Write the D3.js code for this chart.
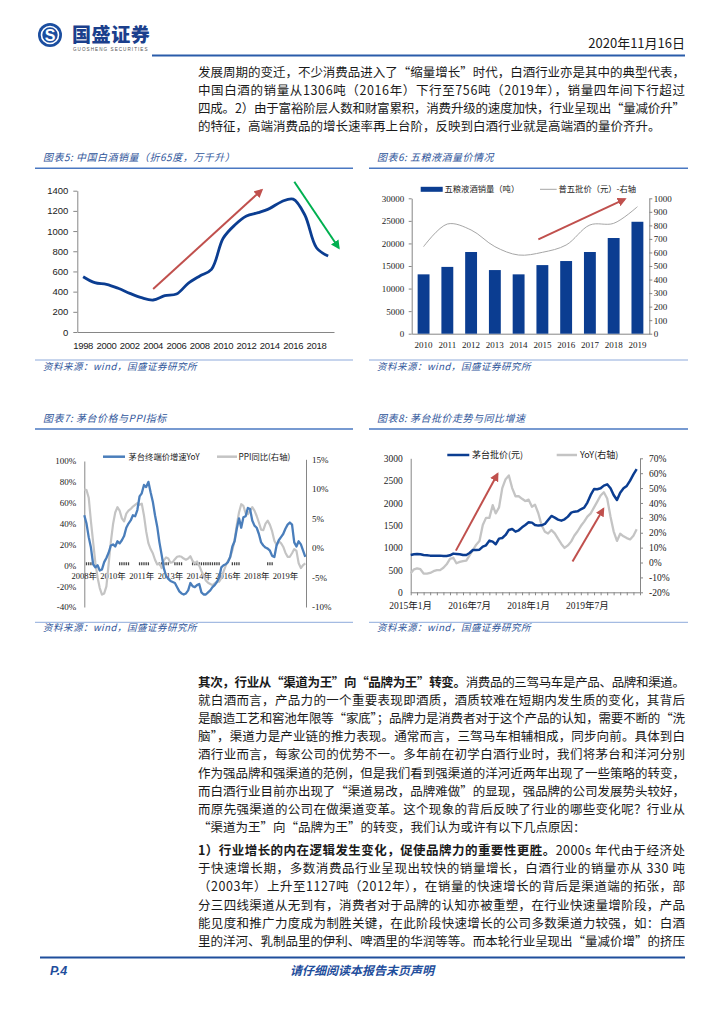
<!DOCTYPE html>
<html>
<head>
<meta charset="utf-8">
<script src="https://cdn.jsdelivr.net/npm/d3@7"></script>
<style>
  body { margin: 0; background: #fff; }
  svg { display: block; }
</style>
</head>
<body>
<svg id="page" width="724" height="1024"></svg>
<script>
// ---------- data ----------

// chart 5: 中国白酒销量
const baijiuYears = ["1998","1999","2000","2001","2002","2003","2004","2005","2006","2007","2008",
  "2009","2010","2011","2012","2013","2014","2015","2016","2017","2018","2019"];
const baijiuVolume = [548, 489, 472, 433, 383, 340, 317, 360, 376, 482, 555,
  621, 928, 1060, 1149, 1182, 1225, 1291, 1317, 1159, 835, 753];
const baijiuXLabels = ["1998","2000","2002","2004","2006","2008","2010","2012","2014","2016","2018"];
const baijiuYTicks = [0, 200, 400, 600, 800, 1000, 1200, 1400];
const baijiuArrows = [[[2004, 426], [2013.3, 1407]], [[2016.1, 1489], [2019.9, 835]]];

// chart 6: 五粮液酒量价
const wlyYears = ["2010","2011","2012","2013","2014","2015","2016","2017","2018","2019"];
const wlyVolume = [13150, 14800, 18100, 14100, 13150, 15200, 16100, 18100, 21200, 24800];
const puwuPrice = [643, 810, 766, 643, 581, 601, 655, 803, 815, 938];
const wlyLeftTicks = [0, 5000, 10000, 15000, 20000, 25000, 30000];
const wlyRightTicks = [0, 100, 200, 300, 400, 500, 600, 700, 800, 900, 1000];
const wlyArrow = [[4.83, 20900], [8.47, 29800]];

// chart 7: 茅台价格与PPI (observation index on x)
const mtRetailYoY = [48,40,27,17,1,-2,0,-5,-4,3, 7,12,19,20,18,23,21,24,28,36,
  40,43,48,47,53,66,69,77,75,80, 70,61,48,37,22,10,-3,-10,-13,-15,
  -16,-17,-21,-25,-27,-28,-27,-24,-17,-20, -21,-19,-18,-26,-28,-28,-26,-24,-21,-19,
  -16,-12,-2,0,1,3,8,18,23,35, 45,36,46,47,55,54,43,38,36,30,
  22,19,17,16,14,9,8,19,24,27, 30,35,39,41,39,22,18,23,20,14, 8];
const ppiYoY = [9.9,9.8,8.5,4.5,1.0,-2.5,-5.0,-6.8,-7.9,-7.7, -6.5,-2.8,1.0,4.0,6.0,6.9,6.3,5.0,4.5,5.8,
  6.3,6.6,7.0,7.3,7.6,7.3,7.5,5.5,2.8,0.8, -0.2,-0.9,-2.0,-2.8,-2.6,-3.4,-2.1,-1.6,-1.8,-2.5,
  -2.4,-1.9,-1.5,-1.4,-1.5,-1.8,-2.0,-1.8,-1.4,-2.2, -2.6,-2.3,-3.0,-3.9,-4.7,-5.5,-5.9,-6.1,-6.3,-6.0,
  -5.7,-5.7,-5.1,-4.0,-3.0,-2.2,-1.6,-0.4,1.3,3.9, 6.0,7.4,7.1,5.9,5.7,6.3,6.9,6.3,5.4,4.3,
  3.1,3.0,4.1,4.6,3.9,2.8,1.2,0.5,1.1,0.8, 0.2,-0.8,-1.5,-1.5,-0.9,-0.2,-0.5,-2.6,-3.4,-2.9, -2.6];
const mtLabels = ["2008年","2010年","2011年","2013年","2014年","2016年","2018年","2019年"];
const mtLabelPos = [0, 13, 26, 39, 52, 65, 78, 91];
const mtLeftTicks = [-40, -20, 0, 20, 40, 60, 80, 100];
const ppiRightTicks = [-10, -5, 0, 5, 10, 15];
const mtTickGroups = [[1, 3], [16, 20], [25, 29], [34, 38], [41, 44], [49, 61], [67, 70], [83, 85]];

// chart 8: 茅台批价 (monthly from 2015-01)
const wsStart = new Date(2015, 0, 1);
const mtWholesale = [836,851,858,851,836,828,821,821,821,821, 813,813,828,866,858,851,836,836,880,948,
  948,955,1022,1052,1157,1134,1075,1202,1216,1284, 1396,1418,1358,1388,1455,1507,1567,1560,1507,1493,
  1500,1530,1619,1709,1672,1627,1604,1634,1694,1784, 1806,1813,1858,1896,2008,2179,2313,2306,2328,2388,
  2418,2328,2179,2067,2231,2328,2381,2500,2640,2760];
const mtWholesaleYoY = [-7.2,-4.6,-3.9,-4.5,-7.4,-7.5,-7.0,-5.8,-5.1,-5.1, -3.5,-1.2,2.5,3.2,-0.5,0.4,1.0,1.3,4.8,8.4,
  12,14.5,25.2,30,30,38.5,33,37,50,56, 58.5,50,44.5,44.5,42.8,41.3,42.2,37.5,38.9,33.1,
  25.2,20.7,19.5,21.8,19.6,16.0,12.5,9.8,11.5,14.2, 18,21,24.5,27.5,30.8,33,37,40.9,45,47.2,
  43,30.8,21,14.5,19.3,17.6,16.4,15.5,18,22.3];
const wsLabels = ["2015年1月","2016年7月","2018年1月","2019年7月"];
const wsLabelPos = [0, 18, 36, 54];
const wsLeftTicks = [0, 500, 1000, 1500, 2000, 2500, 3000];
const wsRightTicks = [-20, -10, 0, 10, 20, 30, 40, 50, 60, 70];
const wsArrows = [[[13.8, 933], [26.5, 2649]], [[49.4, 687], [58.8, 1866]]];

// body text
const para1 = [
  "发展周期的变迁，不少消费品进入了“缩量增长”时代，白酒行业亦是其中的典型代表，",
  "中国白酒的销量从1306吨（2016年）下行至756吨（2019年），销量四年间下行超过",
  "四成。2）由于富裕阶层人数和财富累积，消费升级的速度加快，行业呈现出“量减价升”",
  "的特征，高端消费品的增长速率再上台阶，反映到白酒行业就是高端酒的量价齐升。"
];
const para2 = [
  "**其次，行业从“渠道为王”向“品牌为王”转变。**消费品的三驾马车是产品、品牌和渠道。",
  "就白酒而言，产品力的一个重要表现即酒质，酒质较难在短期内发生质的变化，其背后",
  "是酿造工艺和窖池年限等“家底”；品牌力是消费者对于这个产品的认知，需要不断的“洗",
  "脑”，渠道力是产业链的推力表现。通常而言，三驾马车相辅相成，同步向前。具体到白",
  "酒行业而言，每家公司的优势不一。多年前在初学白酒行业时，我们将茅台和洋河分别",
  "作为强品牌和强渠道的范例，但是我们看到强渠道的洋河近两年出现了一些策略的转变，",
  "而白酒行业目前亦出现了“渠道易改，品牌难做”的显现，强品牌的公司发展势头较好，",
  "而原先强渠道的公司在做渠道变革。这个现象的背后反映了行业的哪些变化呢？行业从",
  "“渠道为王”向“品牌为王”的转变，我们认为或许有以下几点原因："
];
const para3 = [
  "**1）行业增长的内在逻辑发生变化，促使品牌力的重要性更胜。**2000s 年代由于经济处",
  "于快速增长期，多数消费品行业呈现出较快的销量增长，白酒行业的销量亦从 330 吨",
  "（2003年）上升至1127吨（2012年），在销量的快速增长的背后是渠道端的拓张，部",
  "分三四线渠道从无到有，消费者对于品牌的认知亦被重塑，在行业快速量增阶段，产品",
  "能见度和推广力度成为制胜关键，在此阶段快速增长的公司多数渠道力较强，如：白酒",
  "里的洋河、乳制品里的伊利、啤酒里的华润等等。而本轮行业呈现出“量减价增”的挤压"
];

// ---------- setup ----------
const CJK = '"Noto Sans CJK SC", "Noto Sans", sans-serif';
const SERIF = '"Liberation Serif", "Noto Sans CJK SC", serif';
const SANS = '"Liberation Sans", "Noto Sans CJK SC", sans-serif';
const BLUE_DARK = "#0b3d91";
const BLUE_MID = "#4a7ebb";
const GREY_LINE = "#c4c4c4";
const RED = "#c0504d";
const GREEN = "#00b050";
const AXIS = "#868686";
const TITLE_BLUE = "#2f559a";

const TEXT_LEFT = 198, TEXT_RIGHT = 685, LINE_H = 18.2;
const plain = d3.format("d");

const page = d3.select("#page");

const defs = page.append("defs");
[["arrowRed", RED], ["arrowGreen", GREEN]].forEach(([id, c]) => {
  defs.append("marker")
    .attr("id", id)
    .attr("markerUnits", "userSpaceOnUse")
    .attr("markerWidth", 10).attr("markerHeight", 9)
    .attr("refX", 7).attr("refY", 4.5)
    .attr("orient", "auto")
    .append("path")
    .attr("d", "M0,0 L9,4.5 L0,9 Z")
    .attr("fill", c);
});

function styleAxis(sel, font, size) {
  sel.select(".domain").attr("stroke", AXIS).attr("stroke-width", 1);
  sel.selectAll(".tick line").attr("stroke", AXIS);
  sel.selectAll(".tick text")
    .attr("font-family", font)
    .attr("font-size", size)
    .attr("fill", "#1a1a1a");
}

function frame(title, x0, x1, titleY, lineY, srcLineY, srcY) {
  const g = page.append("g");
  g.append("text")
    .attr("x", x0 + 8).attr("y", titleY + 3.5)
    .attr("font-family", CJK).attr("font-size", 10).attr("font-style", "italic")
    .attr("letter-spacing", 0.5)
    .attr("fill", TITLE_BLUE)
    .text(title);
  g.append("line")
    .attr("x1", x0).attr("x2", x1).attr("y1", lineY).attr("y2", lineY)
    .attr("stroke", "#4a78c2").attr("stroke-width", 1.4);
  g.append("line")
    .attr("x1", x0).attr("x2", x1).attr("y1", srcLineY).attr("y2", srcLineY)
    .attr("stroke", "#8eaadb").attr("stroke-width", 1);
  g.append("text")
    .attr("x", x0 + 8).attr("y", srcY + 3.5)
    .attr("font-family", CJK).attr("font-size", 9.5).attr("font-style", "italic")
    .attr("letter-spacing", 0.5)
    .attr("fill", TITLE_BLUE)
    .text("资料来源：wind，国盛证券研究所");
  return g;
}

function arrow(g, x1, y1, x2, y2, color, id) {
  g.append("line")
    .attr("x1", x1).attr("y1", y1).attr("x2", x2).attr("y2", y2)
    .attr("stroke", color).attr("stroke-width", 2)
    .attr("marker-end", `url(#${id})`);
}

// ---------- header ----------
const header = page.append("g");
header.append("circle").attr("cx", 50).attr("cy", 35).attr("r", 12).attr("fill", "#1b4ea0");
header.append("circle").attr("cx", 50).attr("cy", 35).attr("r", 8.5).attr("fill", "none")
  .attr("stroke", "#fff").attr("stroke-width", 1.6);
header.append("text")
  .attr("x", 50).attr("y", 41).attr("text-anchor", "middle")
  .attr("font-family", SANS).attr("font-weight", 700).attr("font-size", 16)
  .attr("fill", "#fff").text("S");
header.append("text")
  .attr("x", 72).attr("y", 42)
  .attr("font-family", CJK).attr("font-weight", 900).attr("font-size", 19)
  .attr("letter-spacing", 0.6)
  .attr("fill", "#1b3f8c").text("国盛证券");
header.append("text")
  .attr("x", 73).attr("y", 51)
  .attr("font-family", SANS).attr("font-size", 4.6).attr("letter-spacing", 1.05)
  .attr("fill", "#555").text("GUOSHENG SECURITIES");
header.append("text")
  .attr("x", 685).attr("y", 48).attr("text-anchor", "end")
  .attr("font-family", CJK).attr("font-size", 13)
  .attr("fill", "#1a1a1a").text("2020年11月16日");
header.append("line")
  .attr("x1", 152).attr("x2", 685).attr("y1", 55.5).attr("y2", 55.5)
  .attr("stroke", "#2a5caa").attr("stroke-width", 2);

// ---------- body text ----------
function paragraph(lines, y0, justifyLast) {
  lines.forEach((line, i) => {
    const t = page.append("text")
      .attr("x", TEXT_LEFT).attr("y", y0 + i * LINE_H)
      .attr("font-family", CJK).attr("font-size", 12.5)
      .attr("fill", "#1a1a1a");
    line.split("**").forEach((part, j) => {
      if (part) t.append("tspan").attr("font-weight", j % 2 ? 700 : 400).text(part);
    });
    if (i < lines.length - 1 || justifyLast) {
      t.attr("textLength", TEXT_RIGHT - TEXT_LEFT).attr("lengthAdjust", "spacing");
    }
  });
}
paragraph(para1, 76.5, false);
paragraph(para2, 686.5, false);
paragraph(para3, 855, true);

// ---------- chart 5 ----------
(function () {
  const g = frame("图表5: 中国白酒销量（折65度，万千升）", 35, 353, 157.7, 168.3, 360, 366.7);

  const x = d3.scaleBand().domain(baijiuYears).range([77.3, 334]);
  const bw = x.bandwidth();
  const xYear = d3.scaleLinear()
    .domain([+baijiuYears[0], +baijiuYears[baijiuYears.length - 1]])
    .range([x(baijiuYears[0]) + bw / 2, x(baijiuYears[baijiuYears.length - 1]) + bw / 2]);
  const y = d3.scaleLinear().domain([0, 1400]).range([332, 190.7]);

  g.append("g")
    .attr("transform", "translate(77.3,0)")
    .call(d3.axisLeft(y).tickValues(baijiuYTicks).tickFormat(plain).tickSize(4).tickPadding(5).tickSizeOuter(0))
    .call(s => styleAxis(s, SANS, 9.5));

  g.append("g")
    .attr("transform", "translate(0,332)")
    .call(d3.axisBottom(x).tickValues(baijiuXLabels).tickSize(0).tickPadding(10))
    .call(s => styleAxis(s, SANS, 9.5))
    .call(s => s.selectAll(".tick text").attr("letter-spacing", -0.3));

  const line = d3.line()
    .x((d, i) => x(baijiuYears[i]) + bw / 2)
    .y(d => y(d))
    .curve(d3.curveCatmullRom.alpha(0.5));

  g.append("path")
    .datum(baijiuVolume)
    .attr("fill", "none")
    .attr("stroke", BLUE_DARK)
    .attr("stroke-width", 2.8)
    .attr("d", line);

  arrow(g, xYear(baijiuArrows[0][0][0]), y(baijiuArrows[0][0][1]),
    xYear(baijiuArrows[0][1][0]), y(baijiuArrows[0][1][1]), RED, "arrowRed");
  arrow(g, xYear(baijiuArrows[1][0][0]), y(baijiuArrows[1][0][1]),
    xYear(baijiuArrows[1][1][0]), y(baijiuArrows[1][1][1]), GREEN, "arrowGreen");
})();

// ---------- chart 6 ----------
(function () {
  const g = frame("图表6: 五粮液酒量价情况", 369, 688, 157.7, 168.3, 360, 366.7);

  const x = d3.scaleBand().domain(wlyYears).range([411.7, 649.3]).paddingInner(0.5).paddingOuter(0.25);
  const bw = x.bandwidth();
  const xIdx = d3.scaleLinear().domain([0, 1]).range([x(wlyYears[0]) + bw / 2, x(wlyYears[1]) + bw / 2]);
  const yL = d3.scaleLinear().domain([0, 30000]).range([333.7, 198.3]);
  const yR = d3.scaleLinear().domain([0, 1000]).range([333.7, 198.3]);

  g.append("g")
    .attr("transform", "translate(411.7,0)")
    .call(d3.axisLeft(yL).tickValues(wlyLeftTicks).tickFormat(plain).tickSize(3).tickPadding(4.5).tickSizeOuter(0))
    .call(s => styleAxis(s, SERIF, 9));

  g.append("g")
    .attr("transform", "translate(649.3,0)")
    .call(d3.axisRight(yR).tickValues(wlyRightTicks).tickFormat(plain).tickSize(3).tickPadding(1.5).tickSizeOuter(0))
    .call(s => styleAxis(s, SERIF, 9));

  g.append("g")
    .attr("transform", "translate(0,333.7)")
    .call(d3.axisBottom(x).tickSize(0).tickPadding(8))
    .call(s => styleAxis(s, SERIF, 9));

  g.selectAll(".bar")
    .data(wlyVolume)
    .enter()
    .append("rect")
    .attr("class", "bar")
    .attr("x", (d, i) => x(wlyYears[i]))
    .attr("y", d => yL(d))
    .attr("width", bw)
    .attr("height", d => yL(0) - yL(d))
    .attr("fill", BLUE_DARK);

  const line = d3.line()
    .x((d, i) => x(wlyYears[i]) + bw / 2)
    .y(d => yR(d))
    .curve(d3.curveCatmullRom.alpha(0.5));

  g.append("path")
    .datum(puwuPrice)
    .attr("fill", "none")
    .attr("stroke", "#a6a6a6")
    .attr("stroke-width", 1)
    .attr("d", line);

  arrow(g, xIdx(wlyArrow[0][0]), yL(wlyArrow[0][1]), xIdx(wlyArrow[1][0]), yL(wlyArrow[1][1]), RED, "arrowRed");

  // legend
  g.append("rect").attr("x", 420.7).attr("y", 186.8).attr("width", 22).attr("height", 5).attr("fill", BLUE_DARK);
  g.append("text").attr("x", 444.5).attr("y", 192.3)
    .attr("font-family", CJK).attr("font-size", 8.3).attr("fill", "#1a1a1a")
    .text("五粮液酒销量（吨）");
  g.append("line").attr("x1", 540).attr("x2", 556.7).attr("y1", 189.3).attr("y2", 189.3)
    .attr("stroke", "#a6a6a6").attr("stroke-width", 1);
  g.append("text").attr("x", 558.5).attr("y", 192.3)
    .attr("font-family", CJK).attr("font-size", 8.3).attr("fill", "#1a1a1a")
    .text("普五批价（元）-右轴");
})();

// ---------- chart 7 ----------
(function () {
  const g = frame("图表7: 茅台价格与PPI指标", 35, 353, 418.3, 429, 622.3, 627.7);

  const x = d3.scaleLinear().domain([0, mtRetailYoY.length - 1]).range([84.3, 305.3]);
  const yL = d3.scaleLinear().domain([-40, 100]).range([607, 461]);
  const yR = d3.scaleLinear().domain([-10, 15]).range([607, 459.3]);

  g.append("g")
    .attr("transform", "translate(84.3,0)")
    .call(d3.axisLeft(yL).tickValues(mtLeftTicks).tickFormat(d => d + "%").tickSize(0).tickPadding(8))
    .call(s => styleAxis(s, SERIF, 9));

  g.append("g")
    .attr("transform", "translate(306,0)")
    .call(d3.axisRight(yR).tickValues(ppiRightTicks).tickFormat(d => d + "%").tickSize(0).tickPadding(6))
    .call(s => styleAxis(s, SERIF, 9));

  // tick marks along the 0% line
  const tickIdx = mtTickGroups.flatMap(([a, b]) => d3.range(a, b + 1));
  g.selectAll(".zt")
    .data(tickIdx)
    .enter()
    .append("line")
    .attr("x1", d => x(d)).attr("x2", d => x(d))
    .attr("y1", yL(0) - 3).attr("y2", yL(0))
    .attr("stroke", "#444").attr("stroke-width", 1.3);

  g.selectAll(".xl")
    .data(mtLabels)
    .enter()
    .append("text")
    .attr("x", (d, i) => x(mtLabelPos[i]))
    .attr("y", yL(0) + 14)
    .attr("text-anchor", "middle")
    .attr("font-family", SERIF).attr("font-size", 8.5).attr("fill", "#1a1a1a")
    .text(d => d);

  const lineL = d3.line().x((d, i) => x(i)).y(d => yL(d));
  const lineR = d3.line().x((d, i) => x(i)).y(d => yR(d));

  g.append("path")
    .datum(ppiYoY)
    .attr("fill", "none").attr("stroke", GREY_LINE).attr("stroke-width", 2.2)
    .attr("stroke-linejoin", "round")
    .attr("d", lineR);

  g.append("path")
    .datum(mtRetailYoY)
    .attr("fill", "none").attr("stroke", BLUE_MID).attr("stroke-width", 2.3)
    .attr("stroke-linejoin", "round")
    .attr("d", lineL);

  // legend
  g.append("line").attr("x1", 103).attr("x2", 125).attr("y1", 456.7).attr("y2", 456.7)
    .attr("stroke", BLUE_MID).attr("stroke-width", 2.5);
  g.append("text").attr("x", 128.5).attr("y", 459.7)
    .attr("font-family", CJK).attr("font-size", 8.3).attr("fill", "#1a1a1a")
    .text("茅台终端价增速YoY");
  g.append("line").attr("x1", 217).attr("x2", 237).attr("y1", 456.7).attr("y2", 456.7)
    .attr("stroke", GREY_LINE).attr("stroke-width", 2.5);
  g.append("text").attr("x", 238.5).attr("y", 459.7)
    .attr("font-family", CJK).attr("font-size", 8.3).attr("fill", "#1a1a1a")
    .text("PPI同比(右轴)");
})();

// ---------- chart 8 ----------
(function () {
  const g = frame("图表8: 茅台批价走势与同比增速", 369, 688, 418.3, 429, 622.3, 627.7);

  const month = i => d3.timeMonth.offset(wsStart, i);
  const x = d3.scaleTime().domain([wsStart, month(70)]).range([410.7, 640]);
  const yL = d3.scaleLinear().domain([0, 3000]).range([592.3, 458.3]);
  const yR = d3.scaleLinear().domain([-20, 70]).range([592.3, 458.3]);

  g.append("g")
    .attr("transform", "translate(410.7,0)")
    .call(d3.axisLeft(yL).tickValues(wsLeftTicks).tickFormat(plain).tickSize(0).tickPadding(8))
    .call(s => styleAxis(s, SERIF, 9.5));

  g.append("g")
    .attr("transform", "translate(640,0)")
    .call(d3.axisRight(yR).tickValues(wsRightTicks).tickFormat(d => d + "%").tickSize(3).tickPadding(6).tickSizeOuter(0))
    .call(s => styleAxis(s, SERIF, 9.5));

  g.append("g")
    .attr("transform", "translate(0,592.3)")
    .call(d3.axisBottom(x).ticks(d3.timeMonth.every(2)).tickFormat("").tickSize(3).tickSizeOuter(0))
    .call(s => styleAxis(s, SERIF, 9.5));

  g.selectAll(".xl")
    .data(wsLabels)
    .enter()
    .append("text")
    .attr("x", (d, i) => x(month(wsLabelPos[i])))
    .attr("y", 608.5)
    .attr("text-anchor", "middle")
    .attr("font-family", SERIF).attr("font-size", 9.5).attr("fill", "#1a1a1a")
    .text(d => d);

  const lineL = d3.line().x((d, i) => x(month(i))).y(d => yL(d));
  const lineR = d3.line().x((d, i) => x(month(i))).y(d => yR(d));

  g.append("path")
    .datum(mtWholesaleYoY)
    .attr("fill", "none").attr("stroke", GREY_LINE).attr("stroke-width", 2.3)
    .attr("stroke-linejoin", "round")
    .attr("d", lineR);

  g.append("path")
    .datum(mtWholesale)
    .attr("fill", "none").attr("stroke", BLUE_DARK).attr("stroke-width", 2.5)
    .attr("stroke-linejoin", "round")
    .attr("d", lineL);

  const xm = d3.scaleLinear().domain([0, 70]).range([410.7, 640]);
  wsArrows.forEach(a => {
    arrow(g, xm(a[0][0]), yL(a[0][1]), xm(a[1][0]), yL(a[1][1]), RED, "arrowRed");
  });

  // legend
  g.append("line").attr("x1", 447.3).attr("x2", 469.3).attr("y1", 455).attr("y2", 455)
    .attr("stroke", BLUE_DARK).attr("stroke-width", 2.5);
  g.append("text").attr("x", 472).attr("y", 458.3)
    .attr("font-family", CJK).attr("font-size", 9).attr("fill", "#1a1a1a")
    .text("茅台批价(元)");
  g.append("line").attr("x1", 556.7).attr("x2", 577).attr("y1", 455).attr("y2", 455)
    .attr("stroke", GREY_LINE).attr("stroke-width", 2.5);
  g.append("text").attr("x", 580).attr("y", 458.3)
    .attr("font-family", CJK).attr("font-size", 9).attr("fill", "#1a1a1a")
    .text("YoY(右轴)");
})();

// ---------- footer ----------
page.append("line")
  .attr("x1", 40).attr("x2", 685).attr("y1", 957.5).attr("y2", 957.5)
  .attr("stroke", "#1f4e9c").attr("stroke-width", 2.2);
page.append("text")
  .attr("x", 50).attr("y", 975)
  .attr("font-family", SANS).attr("font-weight", 700).attr("font-style", "italic")
  .attr("font-size", 12.5).attr("fill", "#1f4e9c")
  .text("P.4");
page.append("text")
  .attr("x", 362).attr("y", 975).attr("text-anchor", "middle")
  .attr("font-family", CJK).attr("font-weight", 700).attr("font-style", "italic")
  .attr("font-size", 12).attr("fill", "#1f4e9c")
  .text("请仔细阅读本报告末页声明");
</script>
</body>
</html>
